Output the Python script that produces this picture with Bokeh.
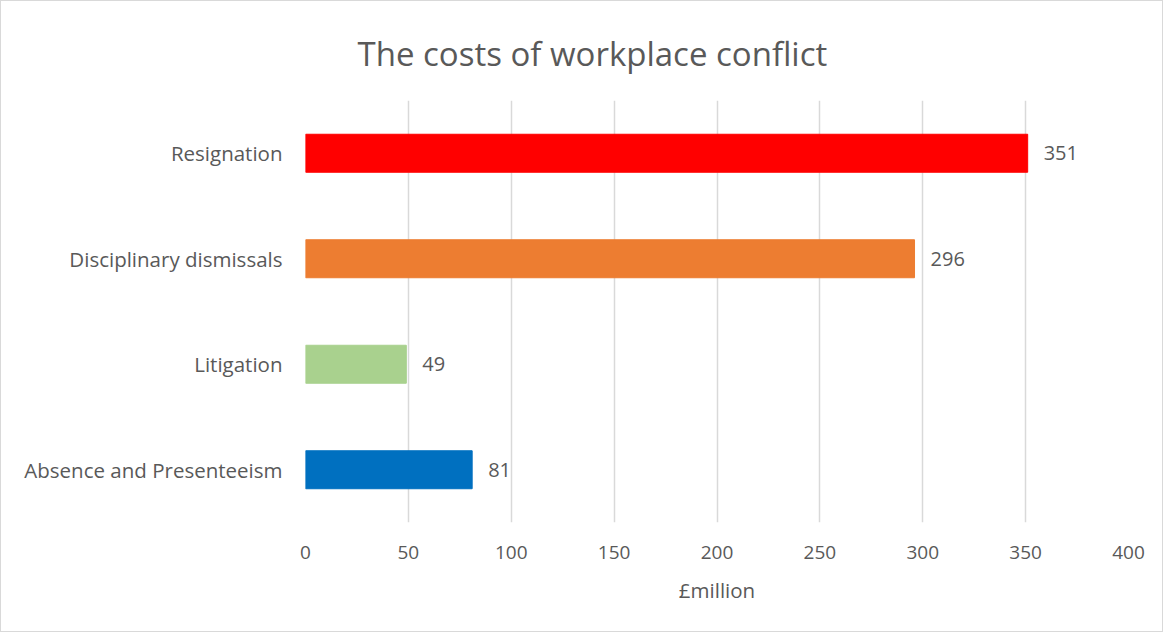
from bokeh.plotting import figure
from bokeh.models import ColumnDataSource, Range1d, FactorRange, SingleIntervalTicker
from bokeh.core.properties import value
from bokeh.embed import file_html
from bokeh.resources import INLINE

categories = ["Absence and Presenteeism", "Litigation", "Disciplinary dismissals", "Resignation"]
costs = [81, 49, 296, 351]
colors = ["#0070C0", "#A9D18E", "#ED7D31", "#FF0000"]
labels = [str(v) for v in costs]
title_text = "The costs of workplace conflict"
x_title = "£million"

FONT = "Open Sans"
TXT = "#595959"
W, H = 1163, 632
LEFT, BOTTOM = 304, 111

src = ColumnDataSource(dict(cat=categories, val=costs, col=colors, lab=labels))

p = figure(width=W, height=H, y_range=FactorRange(*categories), x_range=Range1d(0, 400),
           output_backend="svg", toolbar_location=None, title=title_text,
           min_border_left=LEFT, min_border_right=36, min_border_top=99, min_border_bottom=BOTTOM,
           styles={"border": "1px solid #D9D9D9"})
p.outline_line_color = None
p.hbar(y="cat", right="val", left=0, height=0.36, color="col", source=src)
p.text(x="val", y="cat", text="lab", source=src, x_offset=16, text_align="left",
       text_baseline="middle", text_font=value(FONT), text_font_size="20px", text_color=TXT)

p.ygrid.grid_line_color = None
p.xgrid.grid_line_color = "#D9D9D9"
p.xgrid.grid_line_width = 1.5
p.xaxis.ticker = SingleIntervalTicker(interval=50)
for ax in (p.xaxis, p.yaxis):
    ax.axis_line_color = None
    ax.major_tick_line_color = None
    ax.minor_tick_line_color = None
    ax.major_label_text_font = FONT
    ax.major_label_text_color = TXT
p.xaxis.major_label_text_font_size = "19px"
p.yaxis.major_label_text_font_size = "20.5px"
p.xaxis.major_label_standoff = 17
p.yaxis.major_label_standoff = 17
p.xaxis.axis_label = x_title
p.xaxis.axis_label_text_font = FONT
p.xaxis.axis_label_text_font_size = "20.5px"
p.xaxis.axis_label_text_font_style = "normal"
p.xaxis.axis_label_text_color = TXT
p.xaxis.axis_label_standoff = 14

p.title.align = "left"
p.title.offset = 52
p.title.standoff = 50
p.title.text_font = FONT
p.title.text_font_size = "33px"
p.title.text_font_style = "normal"
p.title.text_color = TXT

open("out.html", "w").write(file_html(p, INLINE))
